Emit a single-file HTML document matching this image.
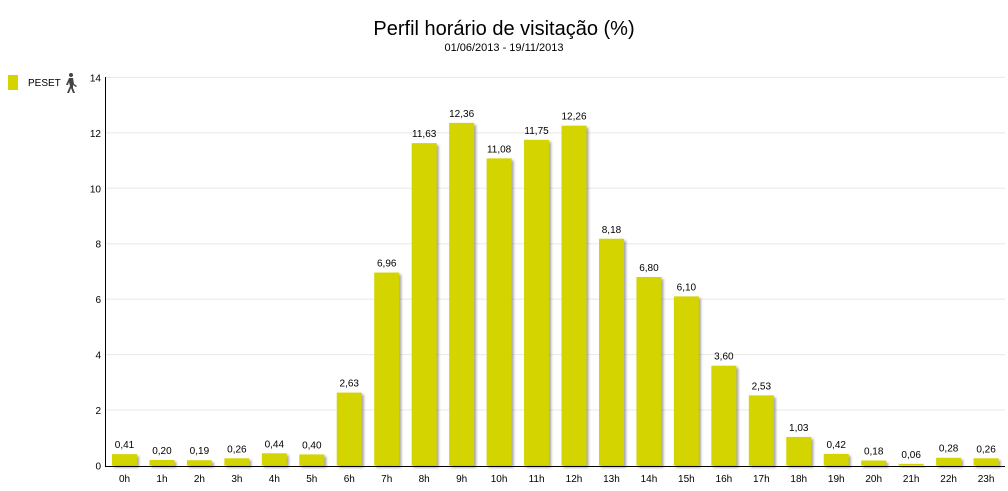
<!DOCTYPE html>
<html><head><meta charset="utf-8"><style>
html,body{margin:0;padding:0;background:#fff;width:1008px;height:491px;overflow:hidden}
text{font-family:"Liberation Sans",Arial,sans-serif}
</style></head><body>
<svg width="1008" height="491" xmlns="http://www.w3.org/2000/svg">
<defs><filter id="sh" x="-20%" y="-20%" width="150%" height="150%"><feGaussianBlur stdDeviation="1.2"/></filter></defs>
<text x="504" y="35" font-size="20" text-anchor="middle" fill="#000">Perfil horário de visitação (%)</text>
<text x="504" y="51" font-size="11" text-anchor="middle" fill="#000">01/06/2013 - 19/11/2013</text>
<rect x="8" y="75" width="10" height="15" fill="#d4d400"/>
<text x="28" y="86" font-size="10" fill="#000">PESET</text>
<g fill="#444"><circle cx="71" cy="75" r="2"/><path d="M69 78 L73 78 L74 84 L77 86 L76 87 L73 85 L73 88 L75 93 L73 93 L71 88 L69 93 L67 93 L70 86 L69 82 L68 85 L66 85 Z"/></g>
<g id="grid" stroke="#e8e8e8" stroke-width="1"></g>
<g id="ylab" font-size="10" fill="#000" text-anchor="end"></g>
<g id="bars"></g>
<line x1="105.5" y1="77" x2="105.5" y2="466" stroke="#000"/>
<line x1="105" y1="466.5" x2="1005" y2="466.5" stroke="#000"/>
</svg>
<script>
var ns="http://www.w3.org/2000/svg";
function el(t,a,p,txt){var e=document.createElementNS(ns,t);for(var k in a)e.setAttribute(k,a[k]);if(txt!=null)e.textContent=txt;p.appendChild(e);return e;}
var g=document.getElementById("grid"),yl=document.getElementById("ylab"),b=document.getElementById("bars");
var y0=465.5,s=27.72;
for(var v=0;v<=14;v+=2){var y=y0-v*s;if(v>0)el("line",{x1:106,x2:1005,y1:y,y2:y},g);el("text",{x:101,y:y+4},yl,String(v));}
var d=[0.41,0.20,0.19,0.26,0.44,0.40,2.63,6.96,11.63,12.36,11.08,11.75,12.26,8.18,6.80,6.10,3.60,2.53,1.03,0.42,0.18,0.06,0.28,0.26];
d.forEach(function(v,i){var x=112+37.46*i,h=v*s,y=y0-h;
el("rect",{x:x+2,y:y+2,width:25,height:h,fill:"#666",opacity:0.6,filter:"url(#sh)"},b);
el("rect",{x:x,y:y,width:25,height:h,fill:"#d4d400"},b);
el("text",{x:x+12.5,y:y-6,"font-size":10,"text-anchor":"middle",fill:"#000"},b,v.toFixed(2).replace(".",","));
el("text",{x:x+12.5,y:482,"font-size":10,"text-anchor":"middle",fill:"#000"},b,i+"h");});
</script>
</body></html>
